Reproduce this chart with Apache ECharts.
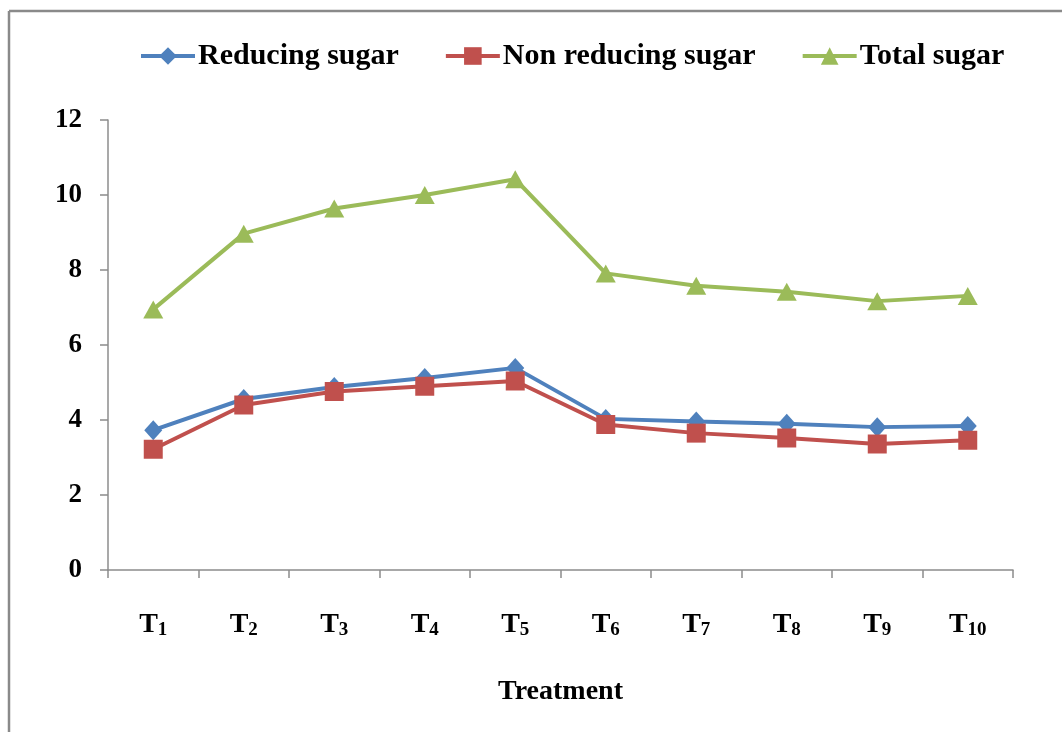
<!DOCTYPE html>
<html>
<head>
<meta charset="utf-8">
<script src="https://cdn.jsdelivr.net/npm/echarts@6/dist/echarts.min.js"></script>
<style>
  html, body { margin: 0; padding: 0; background: #fff; }
  #chart { width: 1062px; height: 732px; }
</style>
</head>
<body>
<div id="chart"></div>
<script>
// treatments (T + subscript number)
var treatments = ['1', '2', '3', '4', '5', '6', '7', '8', '9', '10'];
var reducingSugar = [3.73, 4.56, 4.88, 5.12, 5.39, 4.03, 3.96, 3.90, 3.81, 3.84];
var nonReducingSugar = [3.22, 4.40, 4.76, 4.90, 5.04, 3.88, 3.65, 3.52, 3.36, 3.46];
var totalSugar = [6.95, 8.97, 9.64, 10.0, 10.42, 7.91, 7.58, 7.42, 7.17, 7.31];
var yTicks = [0, 2, 4, 6, 8, 10, 12];

var fontFam = '"Liberation Serif", "Times New Roman", serif';
var axisGrey = '#8c8c8c';

var myChart = echarts.init(document.getElementById('chart'));

function mkSeries(name, data, color, symbol, size) {
	return {
		name: name,
		type: 'line',
		data: data,
		symbol: symbol,
		symbolSize: size,
		showAllSymbol: true,
		lineStyle: { color: color, width: 4 },
		itemStyle: { color: color },
		z: 3
	};
}

var option = {
	backgroundColor: '#fff',
	animation: false,
	grid: { left: 108, right: 49, top: 120, bottom: 162, containLabel: false },
	legend: {
		top: 36,
		left: 134,
		itemWidth: 54,
		itemHeight: 22,
		itemGap: 45,
		lineStyle: { width: 4 },
		textStyle: { fontFamily: fontFam, fontWeight: 'bold', fontSize: 30, color: '#000', padding: [0, 0, 0, -2] },
		data: ['Reducing sugar', 'Non reducing sugar', 'Total sugar']
	},
	xAxis: {
		type: 'category',
		data: treatments,
		boundaryGap: true,
		axisLine: { lineStyle: { color: axisGrey, width: 1.5 } },
		axisTick: { show: true, length: 8, lineStyle: { color: axisGrey, width: 1.5 } },
		axisLabel: {
			margin: 40,
			formatter: function (v) { return '{t|T}{s|' + v + '}'; },
			rich: {
				t: { fontFamily: fontFam, fontWeight: 'bold', fontSize: 28, color: '#000', lineHeight: 30 },
				s: { fontFamily: fontFam, fontWeight: 'bold', fontSize: 19, color: '#000', lineHeight: 30, verticalAlign: 'bottom', padding: [16, 0, 0, 0] }
			}
		},
		name: 'Treatment',
		nameLocation: 'middle',
		nameGap: 108,
		nameTextStyle: { fontFamily: fontFam, fontWeight: 'bold', fontSize: 28, color: '#000' }
	},
	yAxis: {
		type: 'value',
		min: yTicks[0],
		max: yTicks[yTicks.length - 1],
		interval: 2,
		axisLine: { show: true, lineStyle: { color: axisGrey, width: 1.5 } },
		axisTick: { show: true, length: 8, lineStyle: { color: axisGrey, width: 1.5 } },
		splitLine: { show: false },
		axisLabel: { margin: 26, fontFamily: fontFam, fontWeight: 'bold', fontSize: 27, color: '#000' }
	},
	graphic: [
		{ type: 'line', shape: { x1: 9, y1: 11, x2: 1062, y2: 11 }, style: { stroke: '#8a8a8a', lineWidth: 2.5 } },
		{ type: 'line', shape: { x1: 9, y1: 11, x2: 9, y2: 732 }, style: { stroke: '#8a8a8a', lineWidth: 2.5 } }
	],
	series: [
		mkSeries('Reducing sugar', reducingSugar, '#4f81bd', 'diamond', [18, 20]),
		mkSeries('Non reducing sugar', nonReducingSugar, '#c0504d', 'rect', 19),
		mkSeries('Total sugar', totalSugar, '#9bbb59', 'triangle', [20, 18])
	]
};
myChart.setOption(option);
</script>
</body>
</html>
